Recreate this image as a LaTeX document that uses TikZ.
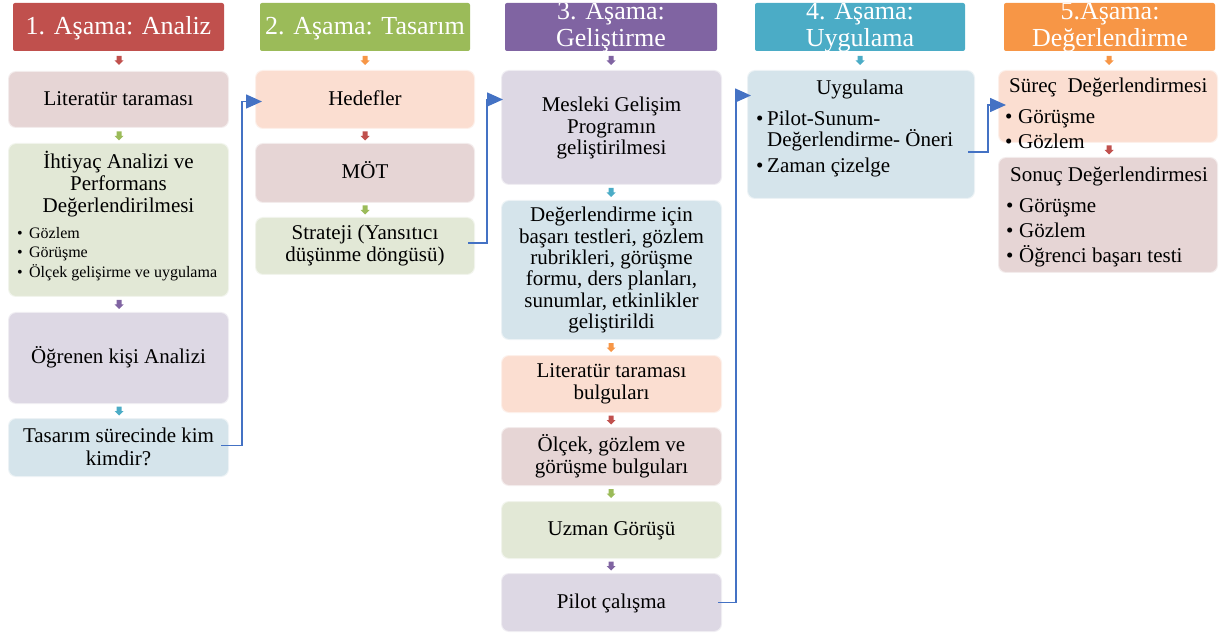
\documentclass[tikz,border=0pt]{standalone}
\usepackage{fontspec}
\setmainfont{Liberation Serif}
\usetikzlibrary{arrows.meta,calc}

% stage colours and their light tints
\definecolor{hRed}{HTML}{C0504D}
\definecolor{hGreen}{HTML}{9BBB59}
\definecolor{hPurple}{HTML}{8064A2}
\definecolor{hTeal}{HTML}{4BACC6}
\definecolor{hOrange}{HTML}{F79646}
\definecolor{tRed}{HTML}{E6D5D5}
\definecolor{tGreen}{HTML}{E2E8D6}
\definecolor{tPurple}{HTML}{DDD8E4}
\definecolor{tTeal}{HTML}{D5E4EB}
\definecolor{tOrange}{HTML}{FBDED1}
\definecolor{linkBlue}{HTML}{4472C4}

% rounded content box: name, x1, y1, x2, y2, fill
\newcommand\panel[6]{%
  \node[panelbox, fill=#6, minimum width={(#4-#2)*1pt}, minimum height={(#5-#3)*1pt}]
    (#1) at ({(#2+#4)/2},{(#3+#5)/2}) {};}
% stage header: name, x1, y1, x2, y2, fill
\newcommand\header[6]{%
  \node[headbox, fill=#6, minimum width={(#4-#2)*1pt}, minimum height={(#5-#3)*1pt}]
    (#1) at ({(#2+#4)/2},{(#3+#5)/2}) {};}
% small block arrow pointing down: x centre, y top, colour
\newcommand\dnarrow[3]{%
  \fill[#3] (#1-2.5,#2) -- (#1+2.5,#2) -- (#1+2.5,#2+4.5) -- (#1+4.5,#2+4.5)
    -- (#1,#2+9) -- (#1-4.5,#2+4.5) -- (#1-2.5,#2+4.5) -- cycle;}

\begin{document}
\begin{tikzpicture}[x=1pt,y=-1pt,
  panelbox/.style={rounded corners=8pt, draw=white, draw opacity=0.55, line width=2pt, inner sep=0pt},
  headbox/.style={rounded corners=2pt, inner sep=0pt},
  tx/.style={anchor=base, inner sep=0pt, font=\fontsize{21}{25}\selectfont},
  txl/.style={tx, anchor=base west},
  sm/.style={anchor=base west, inner sep=0pt, font=\fontsize{16}{19}\selectfont},
  th/.style={anchor=base, inner sep=0pt, text=white, font=\fontsize{26}{30}\selectfont},
  link/.style={draw=linkBlue, line width=1.5pt, -{Triangle[length=16pt,width=14pt]}},
]
\useasboundingbox (0,0) rectangle (1219,639);

% ---------- stage headers ----------
\header{h1}{13}{3}{224}{51}{hRed}
\header{h2}{260}{3}{470}{51}{hGreen}
\header{h3}{505}{3}{717}{51}{hPurple}
\header{h4}{755}{3}{965}{51}{hTeal}
\header{h5}{1004}{3}{1215}{51}{hOrange}
\node[th] (h1t) at (118.5,35) {1. Aşama: Analiz};
\node[th] (h2t) at (365,35) {2. Aşama: Tasarım};
\begin{scope}
  \clip[rounded corners=2pt] (505,3) rectangle (717,51);
  \node[th] (h3a) at (611,20) {3. Aşama:};
  \node[th] (h3b) at (611,47) {Geliştirme};
\end{scope}
\begin{scope}
  \clip[rounded corners=2pt] (755,3) rectangle (965,51);
  \node[th] (h4a) at (860,20) {4. Aşama:};
  \node[th] (h4b) at (860,47) {Uygulama};
\end{scope}
\begin{scope}
  \clip[rounded corners=2pt] (1004,3) rectangle (1215,51);
  \node[th] (h5a) at (1110,20) {5.Aşama:};
  \node[th] (h5b) at (1110,47) {Değerlendirme};
\end{scope}

% ---------- column 1: Analiz ----------
\panel{lit}{8}{71}{229}{128}{tRed}
\panel{iht}{8}{143}{229}{297}{tGreen}
\panel{ogr}{8}{312}{229}{404}{tPurple}
\panel{tas}{8}{418}{229}{477}{tTeal}
\dnarrow{119}{56}{hRed}
\dnarrow{119}{131.5}{hGreen}
\dnarrow{119}{300}{hPurple}
\dnarrow{119}{406.5}{hTeal}
\node[tx] (lit1) at (118.5,106) {Literatür taraması};
\node[tx] (iht1) at (118.5,169) {İhtiyaç Analizi ve};
\node[tx] (iht2) at (118.5,191) {Performans};
\node[tx] (iht3) at (118.5,213) {Değerlendirilmesi};
\node[sm] (iht4) at (17,239) {\makebox[12pt][l]{•}Gözlem};
\node[sm] (iht5) at (17,258) {\makebox[12pt][l]{•}Görüşme};
\node[sm] (iht6) at (17,277.5) {\makebox[12pt][l]{•}Ölçek gelişirme ve uygulama};
\node[tx] (ogr1) at (118.5,363) {Öğrenen kişi Analizi};
\node[tx] (tas1) at (118.5,442) {Tasarım sürecinde kim};
\node[tx] (tas2) at (118.5,465) {kimdir?};

% ---------- column 2: Tasarım ----------
\panel{hed}{255}{70}{475}{129}{tOrange}
\panel{mot}{255}{143}{475}{203}{tRed}
\panel{str}{255}{217}{475}{275}{tGreen}
\dnarrow{365}{56}{hOrange}
\dnarrow{365}{131.5}{hRed}
\dnarrow{365}{205.5}{hGreen}
\node[tx] (hed1) at (365,106) {Hedefler};
\node[tx] (mot1) at (365,179) {MÖT};
\node[tx] (str1) at (365,240) {Strateji (Yansıtıcı};
\node[tx] (str2) at (365,262) {düşünme döngüsü)};

% ---------- column 3: Geliştirme ----------
\panel{mes}{501}{70}{722}{185}{tPurple}
\panel{deg}{501}{200}{722}{340}{tTeal}
\panel{lbu}{501}{355}{722}{413}{tOrange}
\panel{olc}{501}{427}{722}{486}{tRed}
\panel{uzm}{501}{501}{722}{559}{tGreen}
\panel{pil}{501}{573}{722}{632}{tPurple}
\dnarrow{611}{56}{hPurple}
\dnarrow{611}{188}{hTeal}
\dnarrow{611}{343}{hOrange}
\dnarrow{611}{415.5}{hRed}
\dnarrow{611}{489}{hGreen}
\dnarrow{611}{561.5}{hPurple}
\node[tx] (mes1) at (611.5,112) {Mesleki Gelişim};
\node[tx] (mes2) at (611.5,133.5) {Programın};
\node[tx] (mes3) at (611.5,155) {geliştirilmesi};
\node[tx] (deg1) at (611.5,222) {Değerlendirme için};
\node[tx] (deg2) at (611.5,243.3) {başarı testleri, gözlem};
\node[tx] (deg3) at (611.5,264.6) {rubrikleri, görüşme};
\node[tx] (deg4) at (611.5,285.9) {formu, ders planları,};
\node[tx] (deg5) at (611.5,307.2) {sunumlar, etkinlikler};
\node[tx] (deg6) at (611.5,328.5) {geliştirildi};
\node[tx] (lbu1) at (611.5,377) {Literatür taraması};
\node[tx] (lbu2) at (611.5,399) {bulguları};
\node[tx] (olc1) at (611.5,451) {Ölçek, gözlem ve};
\node[tx] (olc2) at (611.5,473) {görüşme bulguları};
\node[tx] (uzm1) at (611.5,535) {Uzman Görüşü};
\node[tx] (pil1) at (611.5,608) {Pilot çalışma};

% ---------- column 4: Uygulama ----------
\panel{uyg}{747}{70}{975}{199}{tTeal}
\dnarrow{860}{56}{hTeal}
\node[tx] (uyg1) at (860,95) {Uygulama};
\node[txl] (uyg2) at (756,126) {\makebox[11pt][l]{•}Pilot-Sunum-};
\node[txl] (uyg3) at (767,147) {Değerlendirme- Öneri};
\node[txl] (uyg4) at (756,173) {\makebox[11pt][l]{•}Zaman çizelge};

% ---------- column 5: Değerlendirme ----------
\panel{sur}{998}{70}{1218}{143}{tOrange}
\panel{son}{998}{157}{1218}{273}{tRed}
\dnarrow{1109}{56}{hOrange}
\dnarrow{1109}{145.5}{hRed}
\node[txl] (sur1) at (1009,93) {Süreç~~Değerlendirmesi};
\node[txl] (sur2) at (1005,124) {\makebox[13pt][l]{•}Görüşme};
\node[txl] (sur3) at (1005,149) {\makebox[13pt][l]{•}Gözlem};
\node[txl] (son1) at (1010,182) {Sonuç Değerlendirmesi};
\node[txl] (son2) at (1006,213) {\makebox[13pt][l]{•}Görüşme};
\node[txl] (son3) at (1006,238) {\makebox[13pt][l]{•}Gözlem};
\node[txl] (son4) at (1006,263) {\makebox[13pt][l]{•}Öğrenci başarı testi};

% ---------- links between stages ----------
\coordinate (a1) at ($(tas.east)+(-9,-2)$);
\coordinate (b1) at ($(hed.west)+(8,2)$);
\draw[link] (a1) -- ++(21,0) |- (b1);
\coordinate (a2) at ($(str.east)+(-8,-3)$);
\coordinate (b2) at ($(mes.west |- hed.west)+(3,0)$);
\draw[link] (a2) -- ++(19,0) |- (b2);
\coordinate (a3) at ($(pil.east)+(-5,0)$);
\coordinate (b3) at ($(uyg.west)+(5,-39)$);
\draw[link] (a3) -- ++(18,0) |- (b3);
\coordinate (a4) at ($(uyg.east)+(-8,17.5)$);
\coordinate (b4) at ($(sur.west)+(9,-1.5)$);
\draw[link] (a4) -- ++(20,0) |- (b4);
\end{tikzpicture}
\end{document}
